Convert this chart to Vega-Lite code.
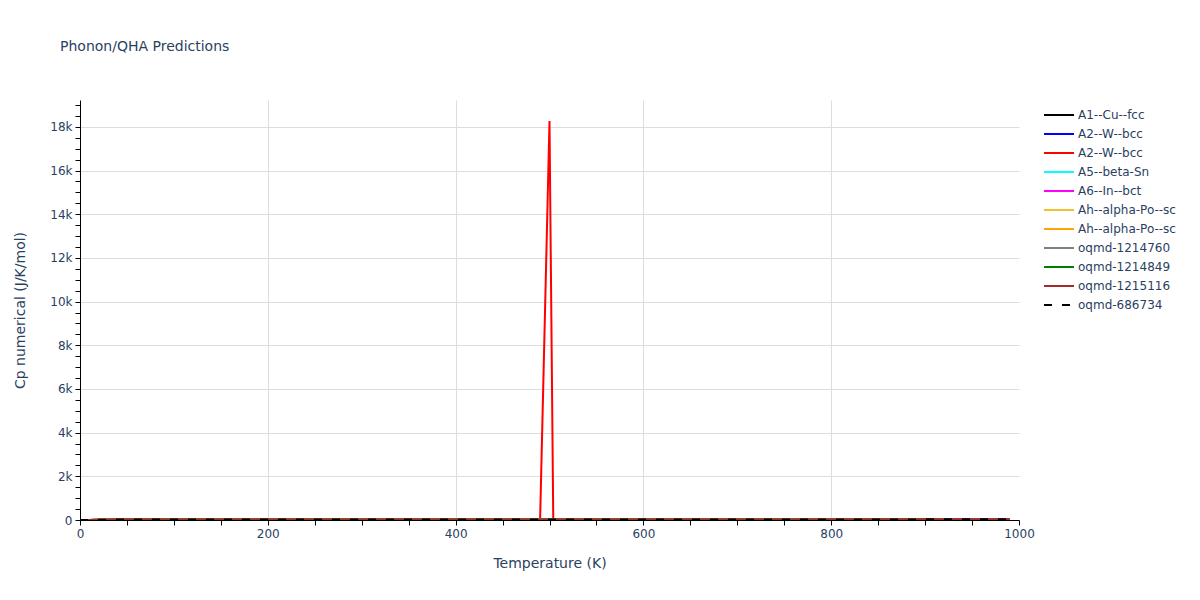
{
  "$schema": "https://vega.github.io/schema/vega-lite/v6.json",
  "width": 939,
  "height": 420,
  "autosize": {"type": "none"},
  "padding": {"left": 80, "top": 100, "right": 181, "bottom": 80},
  "background": "white",
  "config": {
    "font": "DejaVu Sans",
    "view": {"stroke": null}
  },
  "title": {
    "text": "Phonon/QHA Predictions",
    "anchor": "start",
    "frame": "group",
    "dx": -20,
    "offset": 35,
    "baseline": "alphabetic",
    "fontSize": 14,
    "fontWeight": "normal",
    "color": "#2a3f5f"
  },
  "data": {
    "values": [
      {"s":"A1--Cu--fcc","T":0,"Cp":0},{"s":"A1--Cu--fcc","T":10,"Cp":0.9},{"s":"A1--Cu--fcc","T":20,"Cp":6.2},{"s":"A1--Cu--fcc","T":40,"Cp":15.8},{"s":"A1--Cu--fcc","T":70,"Cp":21.4},{"s":"A1--Cu--fcc","T":100,"Cp":23.1},{"s":"A1--Cu--fcc","T":150,"Cp":24.2},{"s":"A1--Cu--fcc","T":200,"Cp":24.7},{"s":"A1--Cu--fcc","T":300,"Cp":25.2},{"s":"A1--Cu--fcc","T":400,"Cp":25.6},{"s":"A1--Cu--fcc","T":500,"Cp":25.9},{"s":"A1--Cu--fcc","T":600,"Cp":26.2},{"s":"A1--Cu--fcc","T":700,"Cp":26.5},{"s":"A1--Cu--fcc","T":800,"Cp":26.8},{"s":"A1--Cu--fcc","T":900,"Cp":27.1},{"s":"A1--Cu--fcc","T":990,"Cp":27.4},
      {"s":"A2--W--bcc","T":0,"Cp":0},{"s":"A2--W--bcc","T":10,"Cp":0.4},{"s":"A2--W--bcc","T":20,"Cp":3.1},{"s":"A2--W--bcc","T":40,"Cp":11.6},{"s":"A2--W--bcc","T":70,"Cp":18.7},{"s":"A2--W--bcc","T":100,"Cp":21.6},{"s":"A2--W--bcc","T":150,"Cp":23.4},{"s":"A2--W--bcc","T":200,"Cp":24.2},{"s":"A2--W--bcc","T":300,"Cp":24.9},{"s":"A2--W--bcc","T":400,"Cp":25.4},{"s":"A2--W--bcc","T":500,"Cp":25.8},{"s":"A2--W--bcc","T":600,"Cp":26.2},{"s":"A2--W--bcc","T":700,"Cp":26.6},{"s":"A2--W--bcc","T":800,"Cp":27.0},{"s":"A2--W--bcc","T":900,"Cp":27.4},{"s":"A2--W--bcc","T":990,"Cp":27.8},
      {"s":"A2--W--bcc ","T":0,"Cp":0},{"s":"A2--W--bcc ","T":10,"Cp":0.5},{"s":"A2--W--bcc ","T":20,"Cp":3.6},{"s":"A2--W--bcc ","T":40,"Cp":12.4},{"s":"A2--W--bcc ","T":70,"Cp":19.3},{"s":"A2--W--bcc ","T":100,"Cp":21.9},{"s":"A2--W--bcc ","T":150,"Cp":23.6},{"s":"A2--W--bcc ","T":200,"Cp":24.4},{"s":"A2--W--bcc ","T":300,"Cp":25.0},{"s":"A2--W--bcc ","T":400,"Cp":25.5},{"s":"A2--W--bcc ","T":480,"Cp":25.8},{"s":"A2--W--bcc ","T":490,"Cp":25.9},{"s":"A2--W--bcc ","T":500,"Cp":18270},{"s":"A2--W--bcc ","T":504,"Cp":25.9},{"s":"A2--W--bcc ","T":600,"Cp":26.3},{"s":"A2--W--bcc ","T":700,"Cp":26.7},{"s":"A2--W--bcc ","T":800,"Cp":27.1},{"s":"A2--W--bcc ","T":900,"Cp":27.5},{"s":"A2--W--bcc ","T":990,"Cp":27.9},
      {"s":"A5--beta-Sn","T":0,"Cp":0},{"s":"A5--beta-Sn","T":10,"Cp":2.5},{"s":"A5--beta-Sn","T":20,"Cp":10.5},{"s":"A5--beta-Sn","T":40,"Cp":19.2},{"s":"A5--beta-Sn","T":70,"Cp":22.8},{"s":"A5--beta-Sn","T":100,"Cp":24.0},{"s":"A5--beta-Sn","T":150,"Cp":24.9},{"s":"A5--beta-Sn","T":200,"Cp":25.3},{"s":"A5--beta-Sn","T":300,"Cp":25.8},{"s":"A5--beta-Sn","T":400,"Cp":26.3},{"s":"A5--beta-Sn","T":500,"Cp":26.8},{"s":"A5--beta-Sn","T":600,"Cp":27.3},{"s":"A5--beta-Sn","T":700,"Cp":27.8},{"s":"A5--beta-Sn","T":800,"Cp":28.3},{"s":"A5--beta-Sn","T":900,"Cp":28.8},{"s":"A5--beta-Sn","T":990,"Cp":29.2},
      {"s":"A6--In--bct","T":0,"Cp":0},{"s":"A6--In--bct","T":10,"Cp":3.2},{"s":"A6--In--bct","T":20,"Cp":12.0},{"s":"A6--In--bct","T":40,"Cp":20.0},{"s":"A6--In--bct","T":70,"Cp":23.2},{"s":"A6--In--bct","T":100,"Cp":24.3},{"s":"A6--In--bct","T":150,"Cp":25.1},{"s":"A6--In--bct","T":200,"Cp":25.5},{"s":"A6--In--bct","T":300,"Cp":26.0},{"s":"A6--In--bct","T":400,"Cp":26.5},{"s":"A6--In--bct","T":500,"Cp":27.0},{"s":"A6--In--bct","T":600,"Cp":27.5},{"s":"A6--In--bct","T":700,"Cp":28.0},{"s":"A6--In--bct","T":800,"Cp":28.5},{"s":"A6--In--bct","T":900,"Cp":29.0},{"s":"A6--In--bct","T":990,"Cp":29.4},
      {"s":"Ah--alpha-Po--sc","T":0,"Cp":0},{"s":"Ah--alpha-Po--sc","T":10,"Cp":2.8},{"s":"Ah--alpha-Po--sc","T":20,"Cp":11.2},{"s":"Ah--alpha-Po--sc","T":40,"Cp":19.6},{"s":"Ah--alpha-Po--sc","T":70,"Cp":23.0},{"s":"Ah--alpha-Po--sc","T":100,"Cp":24.1},{"s":"Ah--alpha-Po--sc","T":150,"Cp":25.0},{"s":"Ah--alpha-Po--sc","T":200,"Cp":25.4},{"s":"Ah--alpha-Po--sc","T":300,"Cp":25.9},{"s":"Ah--alpha-Po--sc","T":400,"Cp":26.4},{"s":"Ah--alpha-Po--sc","T":500,"Cp":26.9},{"s":"Ah--alpha-Po--sc","T":600,"Cp":27.4},{"s":"Ah--alpha-Po--sc","T":700,"Cp":27.9},{"s":"Ah--alpha-Po--sc","T":800,"Cp":28.4},{"s":"Ah--alpha-Po--sc","T":900,"Cp":28.9},{"s":"Ah--alpha-Po--sc","T":990,"Cp":29.3},
      {"s":"Ah--alpha-Po--sc ","T":0,"Cp":0},{"s":"Ah--alpha-Po--sc ","T":10,"Cp":2.6},{"s":"Ah--alpha-Po--sc ","T":20,"Cp":10.8},{"s":"Ah--alpha-Po--sc ","T":40,"Cp":19.4},{"s":"Ah--alpha-Po--sc ","T":70,"Cp":22.9},{"s":"Ah--alpha-Po--sc ","T":100,"Cp":24.0},{"s":"Ah--alpha-Po--sc ","T":150,"Cp":24.9},{"s":"Ah--alpha-Po--sc ","T":200,"Cp":25.3},{"s":"Ah--alpha-Po--sc ","T":300,"Cp":25.8},{"s":"Ah--alpha-Po--sc ","T":400,"Cp":26.3},{"s":"Ah--alpha-Po--sc ","T":500,"Cp":26.8},{"s":"Ah--alpha-Po--sc ","T":600,"Cp":27.3},{"s":"Ah--alpha-Po--sc ","T":700,"Cp":27.8},{"s":"Ah--alpha-Po--sc ","T":800,"Cp":28.3},{"s":"Ah--alpha-Po--sc ","T":900,"Cp":28.8},{"s":"Ah--alpha-Po--sc ","T":990,"Cp":29.2},
      {"s":"oqmd-1214760","T":0,"Cp":0},{"s":"oqmd-1214760","T":10,"Cp":1.8},{"s":"oqmd-1214760","T":20,"Cp":8.9},{"s":"oqmd-1214760","T":40,"Cp":17.9},{"s":"oqmd-1214760","T":70,"Cp":22.2},{"s":"oqmd-1214760","T":100,"Cp":23.6},{"s":"oqmd-1214760","T":150,"Cp":24.6},{"s":"oqmd-1214760","T":200,"Cp":25.0},{"s":"oqmd-1214760","T":300,"Cp":25.5},{"s":"oqmd-1214760","T":400,"Cp":25.9},{"s":"oqmd-1214760","T":500,"Cp":26.3},{"s":"oqmd-1214760","T":600,"Cp":26.7},{"s":"oqmd-1214760","T":700,"Cp":27.1},{"s":"oqmd-1214760","T":800,"Cp":27.5},{"s":"oqmd-1214760","T":900,"Cp":27.9},{"s":"oqmd-1214760","T":990,"Cp":28.2},
      {"s":"oqmd-1214849","T":0,"Cp":0},{"s":"oqmd-1214849","T":10,"Cp":2.1},{"s":"oqmd-1214849","T":20,"Cp":9.6},{"s":"oqmd-1214849","T":40,"Cp":18.5},{"s":"oqmd-1214849","T":70,"Cp":22.5},{"s":"oqmd-1214849","T":100,"Cp":23.8},{"s":"oqmd-1214849","T":150,"Cp":24.7},{"s":"oqmd-1214849","T":200,"Cp":25.1},{"s":"oqmd-1214849","T":300,"Cp":25.6},{"s":"oqmd-1214849","T":400,"Cp":26.0},{"s":"oqmd-1214849","T":500,"Cp":26.4},{"s":"oqmd-1214849","T":600,"Cp":26.8},{"s":"oqmd-1214849","T":700,"Cp":27.2},{"s":"oqmd-1214849","T":800,"Cp":27.6},{"s":"oqmd-1214849","T":900,"Cp":28.0},{"s":"oqmd-1214849","T":990,"Cp":28.3},
      {"s":"oqmd-1215116","T":0,"Cp":0},{"s":"oqmd-1215116","T":10,"Cp":2.4},{"s":"oqmd-1215116","T":20,"Cp":10.2},{"s":"oqmd-1215116","T":40,"Cp":18.9},{"s":"oqmd-1215116","T":70,"Cp":22.7},{"s":"oqmd-1215116","T":100,"Cp":23.9},{"s":"oqmd-1215116","T":150,"Cp":24.8},{"s":"oqmd-1215116","T":200,"Cp":25.2},{"s":"oqmd-1215116","T":300,"Cp":25.7},{"s":"oqmd-1215116","T":400,"Cp":26.2},{"s":"oqmd-1215116","T":500,"Cp":26.7},{"s":"oqmd-1215116","T":600,"Cp":27.2},{"s":"oqmd-1215116","T":700,"Cp":27.7},{"s":"oqmd-1215116","T":800,"Cp":28.2},{"s":"oqmd-1215116","T":900,"Cp":28.7},{"s":"oqmd-1215116","T":990,"Cp":29.1},
      {"s":"oqmd-686734","T":0,"Cp":0},{"s":"oqmd-686734","T":10,"Cp":2.3},{"s":"oqmd-686734","T":20,"Cp":10.0},{"s":"oqmd-686734","T":40,"Cp":18.8},{"s":"oqmd-686734","T":70,"Cp":22.6},{"s":"oqmd-686734","T":100,"Cp":23.9},{"s":"oqmd-686734","T":150,"Cp":24.8},{"s":"oqmd-686734","T":200,"Cp":25.2},{"s":"oqmd-686734","T":300,"Cp":25.7},{"s":"oqmd-686734","T":400,"Cp":26.1},{"s":"oqmd-686734","T":500,"Cp":26.6},{"s":"oqmd-686734","T":600,"Cp":27.1},{"s":"oqmd-686734","T":700,"Cp":27.6},{"s":"oqmd-686734","T":800,"Cp":28.1},{"s":"oqmd-686734","T":900,"Cp":28.6},{"s":"oqmd-686734","T":990,"Cp":29.0}
    ]
  },
  "encoding": {
    "x": {
      "field": "T",
      "type": "quantitative",
      "scale": {"domain": [0, 1000], "nice": false, "zero": false},
      "axis": {
        "title": "Temperature (K)",
        "values": [0,50,100,150,200,250,300,350,400,450,500,550,600,650,700,750,800,850,900,950,1000],
        "labelExpr": "datum.value % 200 === 0 ? format(datum.value, 'd') : ''",
        "labelFlush": false,
        "labelFontSize": 12,
        "labelColor": "#2a3f5f",
        "labelPadding": 3,
        "titleFontSize": 14,
        "titleFontWeight": "normal",
        "titleColor": "#2a3f5f",
        "titlePadding": 17,
        "domainColor": "black",
        "domainWidth": 1,
        "tickColor": "black",
        "tickSize": 5,
        "tickWidth": 1,
        "grid": true,
        "gridColor": "#dddddd",
        "gridOpacity": {"condition": {"test": "datum.value % 200 === 0 && datum.value > 0 && datum.value < 1000", "value": 1}, "value": 0}
      }
    },
    "y": {
      "field": "Cp",
      "type": "quantitative",
      "scale": {"domain": [0, 19230], "nice": false, "zero": false},
      "axis": {
        "title": "Cp numerical (J/K/mol)",
        "values": [0,500,1000,1500,2000,2500,3000,3500,4000,4500,5000,5500,6000,6500,7000,7500,8000,8500,9000,9500,10000,10500,11000,11500,12000,12500,13000,13500,14000,14500,15000,15500,16000,16500,17000,17500,18000,18500,19000],
        "labelExpr": "datum.value % 2000 === 0 ? (datum.value === 0 ? '0' : (datum.value / 1000) + 'k') : ''",
        "labelFontSize": 12,
        "labelColor": "#2a3f5f",
        "labelPadding": 3,
        "titleFontSize": 14,
        "titleFontWeight": "normal",
        "titleColor": "#2a3f5f",
        "titlePadding": 22,
        "domainColor": "black",
        "domainWidth": 1,
        "tickColor": "black",
        "tickSize": 5,
        "tickWidth": 1,
        "grid": true,
        "gridColor": "#dddddd",
        "gridOpacity": {"condition": {"test": "datum.value % 2000 === 0 && datum.value > 0", "value": 1}, "value": 0}
      }
    },
    "color": {
      "field": "s",
      "type": "nominal",
      "scale": {
        "domain": ["A1--Cu--fcc","A2--W--bcc","A2--W--bcc ","A5--beta-Sn","A6--In--bct","Ah--alpha-Po--sc","Ah--alpha-Po--sc ","oqmd-1214760","oqmd-1214849","oqmd-1215116","oqmd-686734"],
        "range": ["#000000","#0000ff","#ff0000","#00ffff","#ff00ff","#f0c030","#ffa500","#808080","#008000","#a52a2a","#000000"]
      },
      "legend": {
        "title": null,
        "orient": "none",
        "legendX": 973,
        "legendY": 9,
        "symbolType": "M-3,0H3",
        "symbolSize": 100,
        "symbolStrokeWidth": 2,
        "labelFontSize": 12,
        "labelColor": "#2a3f5f",
        "labelOffset": 13,
        "rowPadding": 7,
        "encode": {
          "symbols": {
            "update": {
              "strokeDash": {"signal": "datum.value === 'oqmd-686734' ? [8, 10] : [1, 0]"}
            }
          }
        }
      }
    }
  },
  "layer": [
    {
      "transform": [{"filter": "datum.s !== 'oqmd-686734'"}],
      "mark": {"type": "line", "strokeWidth": 2, "clip": true}
    },
    {
      "transform": [{"filter": "datum.s === 'oqmd-686734'"}],
      "mark": {"type": "line", "strokeWidth": 2, "strokeDash": [8, 10], "clip": true}
    }
  ]
}
